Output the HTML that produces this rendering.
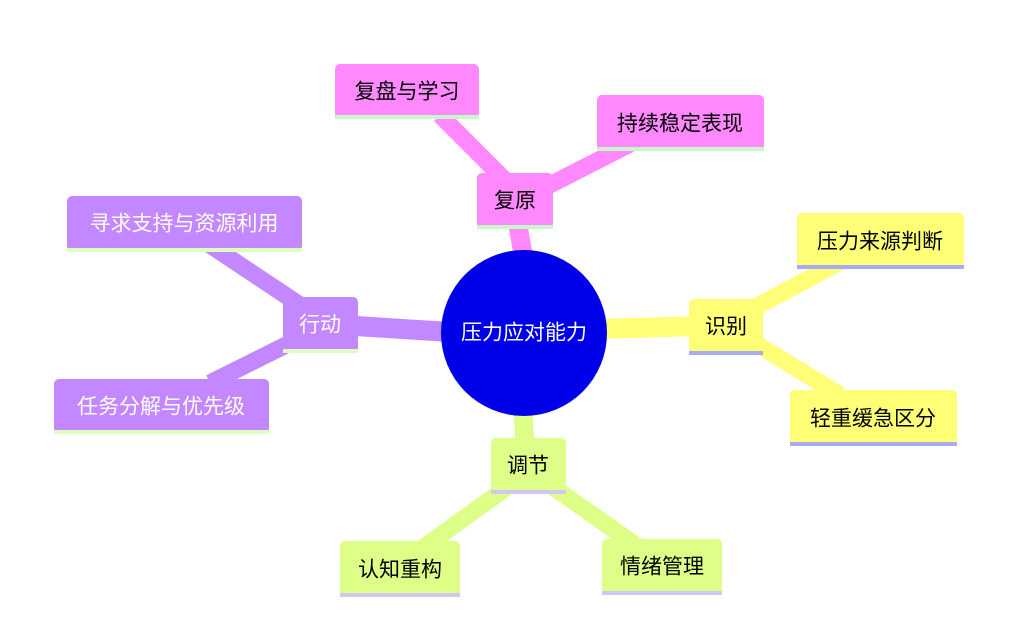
<!DOCTYPE html>
<html><head><meta charset="utf-8"><style>html,body{margin:0;padding:0;background:#fff}svg{display:block}text{font-family:"Liberation Sans","Noto Sans CJK SC",sans-serif;font-size:21px;dominant-baseline:central;text-anchor:middle}</style></head>
<body>
<svg width="1023" height="629" viewBox="0 0 1023 629" xmlns="http://www.w3.org/2000/svg">
<g stroke-linecap="butt">
<line x1="524" y1="260" x2="517" y2="220" stroke="#ff88ff" stroke-width="19"/>
<line x1="515" y1="190" x2="440" y2="115" stroke="#ff88ff" stroke-width="17"/>
<line x1="540" y1="190" x2="630" y2="144" stroke="#ff88ff" stroke-width="17"/>
<line x1="450" y1="332" x2="340" y2="325" stroke="#c388ff" stroke-width="20"/>
<line x1="300" y1="305" x2="210" y2="245" stroke="#c388ff" stroke-width="17"/>
<line x1="300" y1="338" x2="210" y2="383" stroke="#c388ff" stroke-width="17"/>
<line x1="600" y1="329" x2="700" y2="326" stroke="#ffff77" stroke-width="20"/>
<line x1="750" y1="310" x2="840" y2="262" stroke="#ffff77" stroke-width="17"/>
<line x1="750" y1="340" x2="840" y2="395" stroke="#ffff77" stroke-width="17"/>
<line x1="523" y1="410" x2="525" y2="445" stroke="#ddff88" stroke-width="19"/>
<line x1="510" y1="485" x2="420" y2="550" stroke="#ddff88" stroke-width="17"/>
<line x1="550" y1="485" x2="640" y2="548" stroke="#ddff88" stroke-width="17"/>
</g>
<circle cx="524" cy="333" r="83" fill="#0000e8"/>
<text x="524" y="333" fill="#fff">压力应对能力</text>

<rect x="335" y="64" width="144" height="54" rx="5" fill="#ff88ff"/><rect x="335" y="115" width="144" height="4" fill="#c8f8c8"/>
<text x="407" y="92">复盘与学习</text>
<rect x="597" y="95" width="167" height="55" rx="5" fill="#ff88ff"/><rect x="597" y="147" width="167" height="4" fill="#c8f8c8"/>
<text x="680" y="124">持续稳定表现</text>
<rect x="477" y="173" width="76" height="55" rx="5" fill="#ff88ff"/><rect x="477" y="225" width="76" height="4" fill="#c8f8c8"/>
<text x="515" y="201">复原</text>

<rect x="67" y="196" width="235" height="55" rx="5" fill="#c388ff"/><rect x="67" y="248" width="235" height="4" fill="#ddffc0"/>
<text x="184" y="224" fill="#fff">寻求支持与资源利用</text>
<rect x="283" y="297" width="75" height="55" rx="5" fill="#c388ff"/><rect x="283" y="349" width="75" height="4" fill="#ddffc0"/>
<text x="320" y="325" fill="#fff">行动</text>
<rect x="54" y="379" width="215" height="54" rx="5" fill="#c388ff"/><rect x="54" y="430" width="215" height="4" fill="#ddffc0"/>
<text x="161" y="407" fill="#fff">任务分解与优先级</text>

<rect x="689" y="299" width="74" height="55" rx="5" fill="#ffff77"/><rect x="689" y="351" width="74" height="4" fill="#aaaaf5"/>
<text x="726" y="327">识别</text>
<rect x="797" y="213" width="167" height="55" rx="5" fill="#ffff77"/><rect x="797" y="265" width="167" height="4" fill="#aaaaf5"/>
<text x="880" y="242">压力来源判断</text>
<rect x="790" y="390" width="167" height="55" rx="5" fill="#ffff77"/><rect x="790" y="442" width="167" height="4" fill="#aaaaf5"/>
<text x="873" y="419">轻重缓急区分</text>

<rect x="491" y="438" width="75" height="55" rx="5" fill="#ddff88"/><rect x="491" y="490" width="75" height="4" fill="#d5c5f5"/>
<text x="528" y="466">调节</text>
<rect x="340" y="541" width="120" height="55" rx="5" fill="#ddff88"/><rect x="340" y="593" width="120" height="4" fill="#d5c5f5"/>
<text x="400" y="570">认知重构</text>
<rect x="602" y="539" width="120" height="55" rx="5" fill="#ddff88"/><rect x="602" y="591" width="120" height="4" fill="#d5c5f5"/>
<text x="662" y="567">情绪管理</text>
</svg>
</body></html>
